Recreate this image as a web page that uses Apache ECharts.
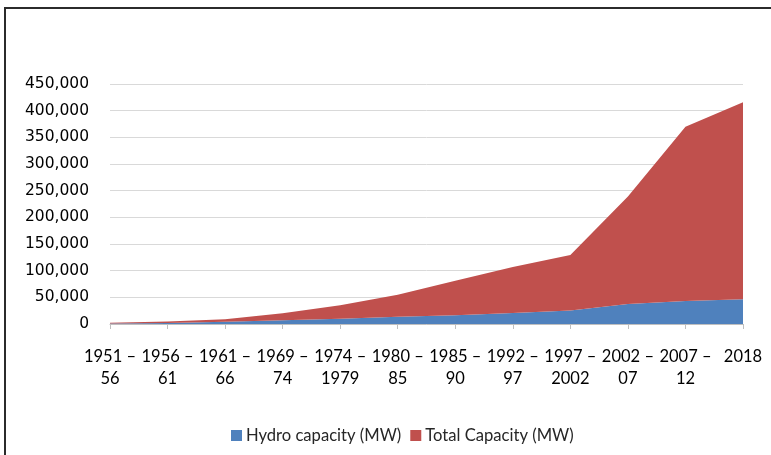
<!DOCTYPE html>
<html>
<head>
<meta charset="utf-8">
<script src="https://cdn.jsdelivr.net/npm/echarts@6/dist/echarts.min.js"></script>
<style>
html, body { margin: 0; padding: 0; background: #fff; }
#chart { width: 771px; height: 455px; }
</style>
</head>
<body>
<div id="chart"></div>
<script>
// 五年计划期间
var periods = ['1951 –\n56', '1956 –\n61', '1961 –\n66', '1969 –\n74', '1974 –\n1979', '1980 –\n85',
  '1985 –\n90', '1992 –\n97', '1997 –\n2002', '2002 –\n07', '2007 –\n12', '2018'];
var hydro = [800, 1900, 4100, 6900, 10000, 13500, 16500, 20500, 25500, 37500, 43000, 46500];
var total = [1700, 2700, 4900, 13100, 25000, 41500, 64500, 86500, 104000, 201500, 327000, 369500];
var yTicks = { min: 0, max: 450000, step: 50000 };

var chart = echarts.init(document.getElementById('chart'));

var option = {
  animation: false,
  graphic: [{
    type: 'rect',
    shape: { x: 5, y: 8, width: 820, height: 520 },
    style: { fill: 'none', stroke: '#2b2b2b', lineWidth: 2 }
  }],
  grid: {
    left: 110,
    right: 28,
    top: 84,
    bottom: 131
  },
  legend: {
    left: 226,
    top: 422,
    icon: 'rect',
    itemWidth: 11,
    itemHeight: 11,
    itemGap: 9,
    textStyle: { fontFamily: 'Lato', fontSize: 16.6, color: '#262626', padding: [0, 0, 0, -1] },
    data: ['Hydro capacity (MW)', 'Total Capacity (MW)']
  },
  xAxis: {
    type: 'category',
    data: periods,
    boundaryGap: false,
    axisLine: { lineStyle: { color: '#bfbfbf', width: 1 } },
    axisTick: { length: 5, lineStyle: { color: '#bfbfbf' } },
    axisLabel: {
      interval: 0,
      margin: 22,
      fontFamily: 'Lato',
      fontSize: 16.5,
      lineHeight: 22,
      color: '#000'
    }
  },
  yAxis: {
    type: 'value',
    min: yTicks.min,
    max: yTicks.max,
    interval: yTicks.step,
    axisLine: { show: false },
    axisTick: { show: false },
    splitLine: { lineStyle: { color: '#d9d9d9', width: 1 } },
    axisLabel: {
      margin: 21,
      fontFamily: 'DejaVu Sans',
      fontSize: 15.5,
      color: '#000',
      formatter: function (v) { return v.toLocaleString('en-US'); }
    }
  },
  series: [{
    name: 'Hydro capacity (MW)',
    type: 'line',
    stack: 'cap',
    data: hydro,
    symbol: 'none',
    lineStyle: { width: 0 },
    itemStyle: { color: '#4f81bd' },
    areaStyle: { color: '#4f81bd', opacity: 1 }
  }, {
    name: 'Total Capacity (MW)',
    type: 'line',
    stack: 'cap',
    data: total,
    symbol: 'none',
    lineStyle: { width: 0 },
    itemStyle: { color: '#c0504d' },
    areaStyle: { color: '#c0504d', opacity: 1 }
  }]
};

chart.setOption(option);
</script>
</body>
</html>
